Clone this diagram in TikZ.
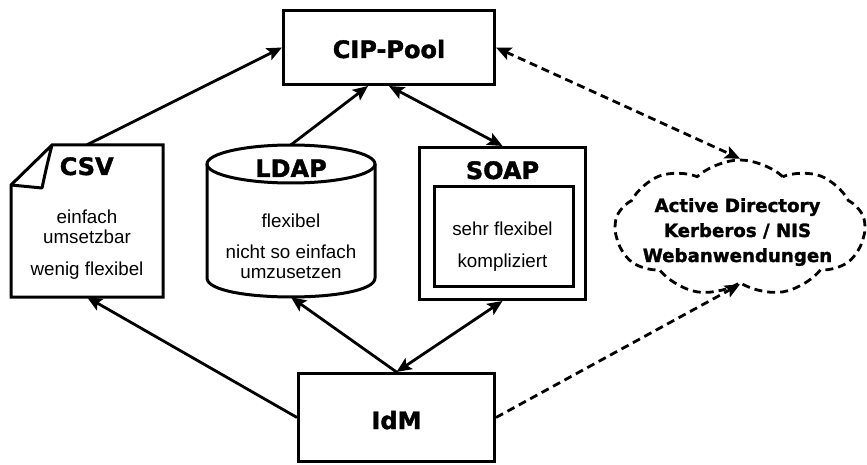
\documentclass[tikz,border=0pt]{standalone}
\usepackage{fontspec}
\setmainfont{Liberation Sans}
\newfontfamily\heavyfam{DejaVu Sans}[FakeBold=1.6]
\usetikzlibrary{arrows.meta,shapes.symbols,calc}

\tikzset{
  box/.style={draw, rectangle, line width=3pt, inner sep=0pt},
  hidden/.style={rectangle, inner sep=0pt},
  head/.style={font=\heavyfam\bfseries\fontsize{24}{28}\selectfont, anchor=base, inner sep=0pt},
  smallhead/.style={font=\heavyfam\bfseries\fontsize{18.2}{22}\selectfont, anchor=base, inner sep=0pt},
  body/.style={font=\fontsize{18.8}{22}\selectfont, anchor=base, inner sep=0pt},
  tip/.tip={Stealth[length=15pt,width=13pt,inset=3pt]},
  conn/.style={line width=2.8pt, -tip},
  conn2/.style={line width=2.8pt, tip-tip},
  dconn/.style={line width=2.8pt, dash pattern=on 8pt off 5pt, -tip},
  dconn2/.style={line width=2.8pt, dash pattern=on 8pt off 5pt, tip-tip},
  shapeline/.style={line width=3pt, line join=miter},
}

\begin{document}
\begin{tikzpicture}[x=1pt, y=-1pt]
\useasboundingbox (0,0) rectangle (867,465);

% --- CIP-Pool and IdM boxes
\node[box, minimum width=211, minimum height=74] (cip) at (389,47.5) {};
\node[head] (ciptxt) at (389,58) {CIP-Pool};
\node[box, minimum width=196, minimum height=88] (idm) at (396.5,417.5) {};
\node[head] (idmtxt) at (396.5,429) {IdM};

% --- CSV document with folded corner
\node[hidden, minimum width=152, minimum height=152] (csv) at (87,221) {};
\draw[shapeline] (52,145) -- (163,145) -- (163,297) -- (11,297) -- (11,185) -- cycle;
\draw[shapeline, line join=round] (52,145) .. controls (47,165) .. (42,188) -- (11,185);
\node[head] (csvtitle) at (86.7,175) {CSV};
\node[body] (csv1) at (87,223) {einfach};
\node[body] (csv2) at (87,243) {umsetzbar};
\node[body] (csv3) at (87,275) {wenig flexibel};

% --- LDAP cylinder
\node[hidden, minimum width=168, minimum height=152] (ldap) at (291,221) {};
\draw[shapeline] (291,164) ellipse [x radius=84, y radius=19];
\draw[shapeline] (207,164) -- (207,278) .. controls (207,303.3) and (375,303.3) .. (375,278) -- (375,164);
\node[head] (ldaptitle) at (291,177) {LDAP};
\node[body] (ldap1) at (291,227) {flexibel};
\node[body] (ldap2) at (291,258) {nicht so einfach};
\node[body] (ldap3) at (291,278) {umzusetzen};

% --- SOAP: frame with inner box
\node[box, minimum width=166, minimum height=152] (soap) at (502.5,223.5) {};
\node[box, minimum width=139, minimum height=100] (soapin) at (504,236.5) {};
\node[head] (soaptitle) at (502.5,179) {SOAP};
\node[body] (soap1) at (502.5,236) {sehr flexibel};
\node[body] (soap2) at (502.5,267) {kompliziert};

% --- external systems cloud
\node[cloud, draw, line width=2.8pt, dash pattern=on 8pt off 5pt,
      cloud puffs=9, cloud puff arc=85, aspect=1.85,
      minimum width=250, minimum height=136, inner sep=0pt] (ext) at (740,228) {};
\node[smallhead] (ext1) at (737.5,212) {Active Directory};
\node[smallhead] (ext2) at (737.5,237) {Kerberos / NIS};
\node[smallhead] (ext3) at (737.5,262) {Webanwendungen};

% --- connectors
\draw[conn] (csv.north) -- (cip.west);
\draw[conn] (ldap.north) -- ($(cip.south)+(-21,0)$);
\draw[conn2] (cip.south) -- (soap.north);
\draw[dconn2] (cip.east) -- (ext.north);
\draw[conn] (idm.west) -- (csv.south);
\draw[conn] (idm.north) -- (ldap.south);
\draw[conn2] (idm.north) -- (soap.south);
\draw[dconn] (idm.east) -- (ext.south);
\end{tikzpicture}
\end{document}
